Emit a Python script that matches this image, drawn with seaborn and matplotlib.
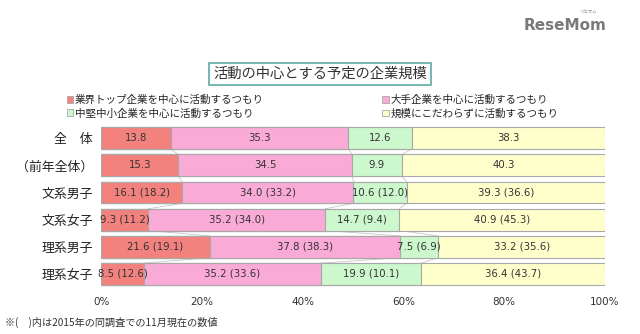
import matplotlib
matplotlib.use("Agg")
import matplotlib.pyplot as plt
import seaborn as sns
import pandas as pd
import numpy as np
from matplotlib.patches import Rectangle

sns.set_style("white")
plt.rcParams['font.family'] = ['Noto Sans CJK JP', 'DejaVu Sans']

categories = ["全　体", "（前年全体）", "文系男子", "文系女子", "理系男子", "理系女子"]
series_names = ["業界トップ企業を中心に活動するつもり", "大手企業を中心に活動するつもり",
                "中堅中小企業を中心に活動するつもり", "規模にこだわらずに活動するつもり"]
top = [13.8, 15.3, 16.1, 9.3, 21.6, 8.5]
large = [35.3, 34.5, 34.0, 35.2, 37.8, 35.2]
mid = [12.6, 9.9, 10.6, 14.7, 7.5, 19.9]
any_size = [38.3, 40.3, 39.3, 40.9, 33.2, 36.4]
prev_top = [None, None, 18.2, 11.2, 19.1, 12.6]
prev_large = [None, None, 33.2, 34.0, 38.3, 33.6]
prev_mid = [None, None, 12.0, 9.4, 6.9, 10.1]
prev_any = [None, None, 36.6, 45.3, 35.6, 43.7]
x_ticks = [0, 20, 40, 60, 80, 100]
x_ticklabels = ["0%", "20%", "40%", "60%", "80%", "100%"]

colors = ["#F3827E", "#F9AAD6", "#CDF7CD", "#FFFFCC"]
edge = "#A8A8A8"

vals = [top, large, mid, any_size]
prevs = [prev_top, prev_large, prev_mid, prev_any]
cum = np.cumsum(np.array(vals), axis=0)  # shape 4 x 6

df = pd.DataFrame({"cat": categories})
for i in range(4):
    df[f"c{i}"] = cum[i]

fig = plt.figure(figsize=(6.4, 3.34), dpi=100)
ax = fig.add_axes([0.158, 0.135, 0.787, 0.496])

for i in range(3, -1, -1):
    sns.barplot(data=df, x=f"c{i}", y="cat", orient="h", color=colors[i],
                width=0.8, edgecolor=edge, linewidth=0.8, ax=ax, saturation=1)

# connector lines between bars
for i in range(3):
    for r in range(len(categories) - 1):
        ax.plot([cum[i][r], cum[i][r + 1]], [r + 0.4, r + 0.6], color="#C8C8C8", lw=0.6, zorder=0)

# value labels
for i in range(4):
    for r in range(len(categories)):
        v = vals[i][r]
        left = cum[i][r] - v
        p = prevs[i][r]
        txt = f"{v:.1f}" if p is None else f"{v:.1f} ({p:.1f})"
        ax.text(left + v / 2, r, txt, ha="center", va="center", fontsize=7.3,
                color="#333333", family=["Liberation Sans Narrow", "DejaVu Sans"])

ax.set_xlim(0, 100)
ax.set_ylim(5.55, -0.55)
ax.set_xticks(x_ticks)
ax.set_xticklabels(x_ticklabels, fontsize=7.5, color="#333333",
                   family=["Liberation Sans Narrow", "DejaVu Sans"])
ax.set_ylabel("")
ax.set_xlabel("")
ax.tick_params(axis="y", labelsize=9.3, length=0, pad=6, labelcolor="#222222")
ax.tick_params(axis="x", length=0, pad=6)
for s in ax.spines.values():
    s.set_visible(False)

# title with box
fig.text(0.5, 0.778, "活動の中心とする予定の企業規模", ha="center", va="center",
         fontsize=10.3, color="#333333",
         bbox=dict(boxstyle="square,pad=0.3", fc="white", ec="#5FA9A3", lw=1.2))

# legend (row-wise order)
handles = [Rectangle((0, 0), 1, 1, fc=c, ec=edge, lw=0.6) for c in colors]
order = [0, 2, 1, 3]
leg = fig.legend([handles[k] for k in order], [series_names[k] for k in order],
                 ncol=2, loc="center left", bbox_to_anchor=(0.104, 0.68),
                 frameon=False, fontsize=7.6, handlelength=0.6, handleheight=0.6,
                 handletextpad=0.2, columnspacing=11.2, labelspacing=0.3,
                 borderpad=0, borderaxespad=0)

# footnote
fig.text(0.008, 0.035, "※(　)内は2015年の同調査での11月現在の数値", fontsize=7.3,
         color="#333333", va="center", ha="left")

# logo
fig.text(0.883, 0.925, "ReseMom", fontsize=11, fontweight="bold", color="#7A7A7A",
         ha="center", va="center", family=["DejaVu Sans"])
fig.text(0.918, 0.965, "リセマム", fontsize=3.2, color="#888888", ha="center", va="center")

fig.savefig("out.png", dpi=100)
